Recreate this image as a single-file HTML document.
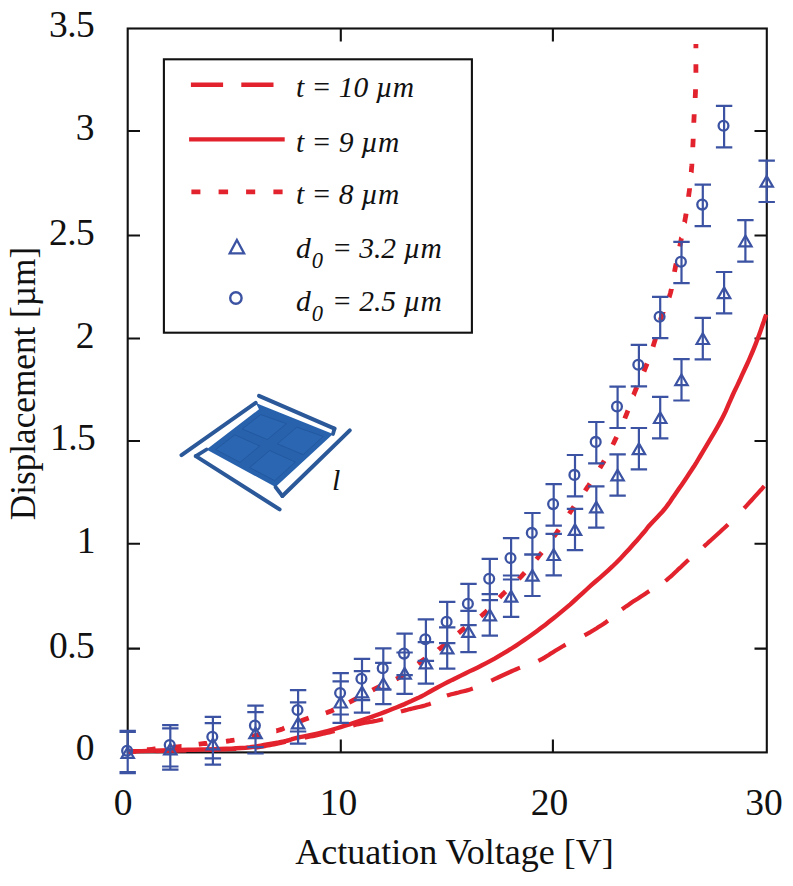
<!DOCTYPE html>
<html><head><meta charset="utf-8"><style>
html,body{margin:0;padding:0;background:#fff;}
svg{display:block;}
.tl{font-family:"Liberation Serif",serif;font-size:37.5px;fill:#111;}
.at{font-family:"Liberation Serif",serif;font-size:36px;fill:#111;}
.at2{font-family:"Liberation Serif",serif;font-size:35.2px;fill:#111;}
.lg{font-family:"Liberation Serif",serif;font-style:italic;font-size:29.5px;fill:#111;}
.sub{font-size:22.5px;}
</style></head><body>
<svg width="793" height="886" viewBox="0 0 793 886">
<rect x="127.7" y="28.5" width="639.1" height="723.9" fill="none" stroke="#111" stroke-width="2.1"/>
<path d="M127.7,648.6 h12.3 M766.8,648.6 h-12.3 M127.7,543.7 h12.3 M766.8,543.7 h-12.3 M127.7,441.0 h12.3 M766.8,441.0 h-12.3 M127.7,338.5 h12.3 M766.8,338.5 h-12.3 M127.7,235.5 h12.3 M766.8,235.5 h-12.3 M127.7,131.0 h12.3 M766.8,131.0 h-12.3 M340.8,752.4 v-13 M340.8,28.5 v13 M552.9,752.4 v-13 M552.9,28.5 v13" stroke="#111" stroke-width="2.1" fill="none"/>
<text x="94.1" y="37.2" text-anchor="end" class="tl" letter-spacing="-0.6">3.5</text>
<text x="94.5" y="140.2" text-anchor="end" class="tl">3</text>
<text x="94.1" y="244.7" text-anchor="end" class="tl" letter-spacing="-0.6">2.5</text>
<text x="94.5" y="347.7" text-anchor="end" class="tl">2</text>
<text x="95.1" y="450.2" text-anchor="end" class="tl" letter-spacing="-0.6">1.5</text>
<text x="95.5" y="552.9" text-anchor="end" class="tl">1</text>
<text x="94.1" y="657.8" text-anchor="end" class="tl" letter-spacing="-0.6">0.5</text>
<text x="94.5" y="760.1" text-anchor="end" class="tl">0</text>
<text x="123.0" y="814.8" text-anchor="middle" class="tl">0</text>
<text x="338.5" y="814.8" text-anchor="middle" class="tl">10</text>
<text x="549.5" y="814.8" text-anchor="middle" class="tl">20</text>
<text x="764.0" y="814.8" text-anchor="middle" class="tl">30</text>
<text x="454.5" y="863.8" text-anchor="middle" class="at">Actuation Voltage [V]</text>
<text transform="translate(35.3,383.5) rotate(-90)" text-anchor="middle" class="at2">Displacement [µm]</text>
<path d="M128.0,751.8 L130.6,751.7 L133.8,751.7 L136.3,751.6 M155.8,751.1 L156.6,751.1 L161.6,751.0 L166.6,750.8 L171.4,750.7 L175.9,750.6 L180.0,750.5 L183.8,750.4 L186.3,750.4 M205.8,749.9 L207.9,749.9 L211.0,749.8 L214.1,749.7 L217.1,749.6 L220.0,749.5 L222.9,749.4 L225.7,749.3 L228.4,749.2 L231.1,749.1 L233.7,749.0 L236.2,748.9 M255.7,747.4 L257.2,747.3 L258.7,747.1 L260.2,746.9 L261.7,746.6 L263.2,746.4 L264.8,746.1 L266.4,745.8 L268.1,745.5 L270.0,745.2 L272.0,744.8 L274.0,744.4 L276.2,744.0 L278.4,743.5 L280.6,743.0 L282.8,742.5 L285.1,742.0 L285.7,741.9 M304.7,737.8 L305.7,737.5 L308.1,737.0 L310.4,736.5 L312.7,736.1 L314.9,735.6 L317.1,735.1 L319.2,734.7 L321.2,734.2 L323.0,733.8 L324.7,733.4 L326.3,733.0 L327.7,732.7 L329.1,732.4 L330.3,732.1 L331.6,731.8 L332.8,731.5 L333.9,731.2 L334.5,731.0 M353.1,725.4 L353.1,725.4 L354.8,724.9 L356.6,724.5 L358.5,724.1 L360.6,723.6 L362.8,723.2 L365.1,722.8 L367.4,722.4 L369.8,722.0 L372.2,721.6 L374.5,721.1 L376.8,720.7 L379.0,720.2 L381.1,719.7 L383.0,719.2 M400.9,711.6 L400.9,711.6 L402.9,711.0 L405.1,710.4 L407.5,709.8 L410.0,709.1 L412.5,708.5 L415.1,707.9 L417.7,707.3 L420.2,706.7 L422.7,706.1 L425.0,705.5 L427.1,704.8 L429.1,704.2 L430.8,703.6 M446.9,695.6 L446.9,695.6 L449.0,694.9 L451.3,694.3 L453.7,693.7 L456.1,693.1 L458.6,692.5 L461.2,691.8 L463.7,691.2 L466.1,690.6 L468.5,689.9 L470.7,689.3 L472.8,688.6 M491.2,680.6 L491.2,680.6 L493.0,679.8 L494.9,678.9 L497.0,678.0 L499.1,677.0 L501.2,676.0 L503.4,675.0 L505.6,674.0 L507.8,673.0 L510.0,672.0 L512.1,671.0 L514.2,670.1 L516.3,669.2 L518.2,668.4 L520.0,667.7 M538.4,660.9 L538.4,660.9 L540.3,659.9 L542.3,658.8 L544.4,657.6 L546.5,656.3 L548.7,655.0 L550.8,653.6 L553.0,652.2 L555.2,650.8 L557.4,649.5 L559.5,648.2 L561.6,647.0 L563.6,645.8 L565.6,644.7 M584.5,635.4 L584.5,635.4 L586.3,634.4 L588.1,633.4 L589.9,632.4 L591.6,631.3 L593.4,630.3 L595.1,629.2 L596.8,628.2 L598.5,627.1 L600.2,626.0 L601.8,625.0 L603.4,623.9 L605.0,622.9 L606.5,621.8 L607.9,620.8 M622.0,609.2 L622.0,609.2 L623.9,607.9 L626.0,606.4 L628.3,604.9 L630.6,603.3 L633.1,601.6 L635.6,600.0 L638.1,598.4 L640.6,596.7 L643.0,595.2 L645.3,593.7 L647.4,592.3 L649.3,591.1 M665.4,581.0 L665.4,581.0 L667.1,579.6 L668.9,578.0 L670.9,576.3 L672.9,574.5 L675.0,572.5 L677.1,570.6 L679.1,568.6 L681.2,566.7 L683.2,564.8 L685.1,563.0 L686.9,561.3 L688.6,559.8 M703.7,546.7 L703.7,546.7 L705.4,545.1 L707.3,543.5 L709.3,541.6 L711.4,539.8 L713.6,537.8 L715.8,535.8 L718.0,533.8 L720.2,531.8 L722.3,529.8 L724.3,528.0 L726.2,526.2 L728.0,524.5 M744.1,508.3 L744.1,508.3 L745.7,506.6 L747.5,504.7 L749.3,502.7 L751.3,500.5 L753.2,498.4 L755.2,496.2 L757.1,494.1 L758.9,492.1 L760.6,490.2 L762.1,488.6 L763.3,487.2 L764.3,486.1" fill="none" stroke="#e2222c" stroke-width="4.2"/>
<path d="M128.0,751.5 L133.8,751.3 L141.9,751.1 L151.5,750.8 L161.6,750.5 L171.4,750.2 L180.0,750.0 L187.5,749.8 L194.6,749.7 L201.4,749.5 L207.9,749.4 L214.1,749.2 L220.0,749.0 L225.7,748.8 L231.1,748.6 L236.2,748.3 L241.1,748.0 L245.7,747.7 L250.0,747.3 L254.0,746.8 L257.6,746.2 L260.9,745.6 L264.0,745.0 L267.0,744.4 L270.0,743.8 L273.0,743.3 L275.8,742.8 L278.6,742.4 L281.2,741.9 L283.7,741.5 L286.0,741.0 L287.9,740.5 L289.3,740.1 L290.6,739.7 L292.0,739.2 L293.9,738.7 L296.5,738.0 L300.0,737.2 L304.1,736.4 L308.8,735.4 L313.6,734.4 L318.4,733.3 L323.0,732.2 L327.4,731.0 L331.8,729.8 L336.2,728.5 L340.7,727.1 L345.1,725.7 L349.5,724.3 L353.9,722.9 L358.4,721.4 L362.8,719.9 L367.3,718.4 L371.7,716.9 L376.0,715.3 L380.3,713.7 L384.6,712.1 L388.8,710.5 L393.0,708.8 L397.0,707.2 L400.9,705.6 L404.6,704.1 L408.0,702.6 L411.4,701.1 L414.6,699.6 L417.9,698.1 L421.1,696.5 L424.3,694.9 L427.3,693.2 L430.2,691.5 L433.3,689.8 L436.5,688.0 L440.0,686.1 L443.8,684.1 L447.9,682.1 L452.2,679.9 L456.6,677.8 L460.9,675.6 L465.2,673.5 L469.4,671.4 L473.6,669.4 L477.8,667.4 L482.0,665.3 L486.2,663.1 L490.4,660.9 L494.6,658.6 L498.8,656.1 L503.0,653.7 L507.3,651.1 L511.5,648.5 L515.7,645.8 L519.9,643.0 L524.1,640.2 L528.3,637.3 L532.5,634.3 L536.7,631.2 L540.9,628.1 L545.1,624.9 L549.3,621.6 L553.5,618.3 L557.7,614.9 L561.9,611.4 L566.1,607.9 L570.3,604.3 L574.5,600.5 L578.7,596.7 L582.9,592.9 L587.1,589.0 L591.3,585.2 L595.5,581.5 L599.8,577.8 L604.0,574.1 L608.2,570.3 L612.4,566.5 L616.5,562.5 L620.7,558.2 L625.0,553.6 L629.3,548.9 L633.4,544.3 L637.1,540.2 L640.2,536.6 L642.6,533.8 L644.4,531.7 L645.9,529.9 L647.1,528.3 L648.5,526.5 L650.3,524.5 L652.4,522.2 L654.8,519.7 L657.2,517.2 L659.7,514.6 L662.1,512.0 L664.4,509.3 L666.5,506.6 L668.5,503.9 L670.4,501.2 L672.3,498.3 L674.3,495.4 L676.5,492.2 L678.9,488.7 L681.6,484.9 L684.3,480.9 L687.0,476.9 L689.4,473.3 L691.6,470.0 L693.2,467.5 L694.4,465.7 L695.4,464.1 L696.5,462.4 L697.9,460.0 L700.0,456.5 L702.9,451.6 L706.5,445.6 L710.5,438.9 L714.5,432.1 L718.2,425.6 L721.3,419.9 L723.7,415.2 L725.7,411.1 L727.3,407.3 L728.9,403.6 L730.6,399.8 L732.5,395.5 L734.7,390.7 L737.2,385.6 L739.7,380.3 L742.1,374.9 L744.5,369.8 L746.7,365.0 L748.7,360.6 L750.5,356.4 L752.2,352.5 L753.8,348.6 L755.4,344.6 L757.0,340.5 L758.7,336.0 L760.5,331.0 L762.2,326.0 L763.9,321.3 L765.2,317.3 L766.2,314.5" fill="none" stroke="#e2222c" stroke-width="4.4"/>
<path d="M147.0,749.7 L148.7,749.6 L151.7,749.3 L154.7,749.0 L155.6,748.9 M172.9,747.3 L173.4,747.2 L175.4,747.0 L177.4,746.8 L179.4,746.6 L181.3,746.4 L181.5,746.4 M198.7,744.2 L199.5,744.1 L201.2,743.9 L203.0,743.7 L205.0,743.5 L207.0,743.3 L207.3,743.2 M226.0,741.3 L228.1,741.0 L230.3,740.7 L232.5,740.3 L234.5,740.0 M251.8,736.3 L251.8,736.3 L253.9,735.9 L256.0,735.4 L258.1,734.9 L260.1,734.5 L260.2,734.5 M276.3,730.8 L276.4,730.8 L278.4,730.2 L280.4,729.6 L282.4,728.9 L284.4,728.1 L284.4,728.1 M300.6,721.1 L302.5,720.3 L304.6,719.5 L306.7,718.8 L308.7,718.1 M325.8,713.0 L327.8,712.3 L329.8,711.5 L331.8,710.7 L333.8,709.8 M349.2,702.3 L351.1,701.4 L353.0,700.4 L354.9,699.4 L356.8,698.4 M372.5,690.1 L374.3,689.1 L376.3,688.1 L378.3,687.1 L380.2,686.3 M396.2,679.1 L398.1,678.1 L400.0,677.0 L401.9,675.8 L403.6,674.7 M418.0,663.8 L419.7,662.5 L421.4,661.2 L423.1,660.0 L424.9,658.8 L424.9,658.7 M438.4,649.6 L438.5,649.5 L440.2,648.3 L441.9,647.0 L443.6,645.7 L445.2,644.4 L445.3,644.3 M458.4,633.1 L460.0,631.8 L461.7,630.4 L463.5,629.0 L465.1,627.8 M480.7,616.3 L482.3,615.0 L484.0,613.5 L485.7,612.0 L487.2,610.6 M499.5,597.6 L500.9,596.1 L502.5,594.5 L504.1,592.9 L505.6,591.5 M518.8,578.9 L520.3,577.4 L521.8,575.8 L523.3,574.2 L524.7,572.7 M536.4,559.2 L537.7,557.7 L539.1,555.9 L540.5,554.1 L541.8,552.5 M553.9,536.6 L555.0,535.0 L556.4,533.1 L557.7,531.2 L558.8,529.6 M569.2,513.7 L570.3,512.0 L571.6,510.1 L572.9,508.2 L574.0,506.6 M585.1,490.8 L586.2,489.1 L587.5,487.2 L588.8,485.3 L589.9,483.6 M599.9,468.1 L601.0,466.3 L602.1,464.4 L603.2,462.5 L604.3,460.7 M612.8,444.8 L613.7,443.0 L614.7,440.9 L615.7,438.8 L616.6,437.0 M624.8,418.5 L625.5,416.6 L626.4,414.5 L627.2,412.4 L628.0,410.5 M633.6,395.0 L633.7,394.9 L634.4,392.9 L635.2,391.0 L636.0,389.0 L636.8,387.1 L636.9,387.0 M643.9,371.5 L644.7,369.5 L645.5,367.5 L646.3,365.5 L647.1,363.5 M653.0,346.7 L653.6,344.7 L654.3,342.6 L655.0,340.4 L655.5,338.5 M660.4,320.2 L661.0,318.2 L661.7,316.1 L662.4,314.1 L663.1,312.1 L663.1,312.0 M669.1,297.2 L669.2,297.0 L669.8,295.1 L670.4,293.1 L670.9,291.1 L671.4,289.0 L671.4,288.9 M674.5,271.9 L674.9,269.8 L675.3,267.7 L675.7,265.6 L676.2,263.5 M679.7,246.5 L679.7,246.5 L680.2,244.4 L680.6,242.3 L681.0,240.2 L681.4,238.2 L681.5,238.1 M684.6,222.1 L684.7,222.0 L685.0,220.0 L685.4,217.9 L685.8,215.8 L686.1,213.7 L686.1,213.7 M688.6,196.8 L688.6,196.7 L688.8,194.6 L689.1,192.5 L689.4,190.4 L689.6,188.4 L689.6,188.2 M691.2,172.3 L691.3,172.1 L691.4,170.1 L691.6,168.0 L691.8,165.9 L691.9,163.9 L691.9,163.7 M692.8,147.3 L692.8,147.1 L692.9,145.1 L693.0,143.0 L693.1,140.9 L693.2,138.9 L693.2,138.7 M693.8,122.8 L693.8,122.6 L693.9,120.6 L694.0,118.5 L694.1,116.4 L694.2,114.4 L694.2,114.2 M695.2,97.9 L695.2,97.8 L695.3,95.7 L695.4,93.6 L695.5,91.5 L695.5,89.4 L695.5,89.3 M695.9,72.8 L695.9,72.7 L695.9,70.6 L695.9,68.5 L695.9,66.4 L695.9,64.2 M695.9,48.3 L695.9,46.7 L695.9,45.2 L695.9,44.0" fill="none" stroke="#e2222c" stroke-width="4.8"/>
<path d="M127.7,730.8 V772.2 M119.5,730.8 h16.4 M119.5,772.2 h16.4 M170.3,725.1 V766.5 M162.1,725.1 h16.4 M162.1,766.5 h16.4 M212.9,716.9 V758.3 M204.7,716.9 h16.4 M204.7,758.3 h16.4 M255.5,705.7 V747.1 M247.3,705.7 h16.4 M247.3,747.1 h16.4 M298.1,690.1 V731.5 M289.9,690.1 h16.4 M289.9,731.5 h16.4 M340.7,673.1 V714.5 M332.5,673.1 h16.4 M332.5,714.5 h16.4 M362.0,658.8 V700.2 M353.8,658.8 h16.4 M353.8,700.2 h16.4 M383.3,648.3 V689.7 M375.1,648.3 h16.4 M375.1,689.7 h16.4 M404.6,633.7 V675.1 M396.4,633.7 h16.4 M396.4,675.1 h16.4 M425.9,619.4 V660.8 M417.7,619.4 h16.4 M417.7,660.8 h16.4 M447.2,601.8 V643.2 M439.0,601.8 h16.4 M439.0,643.2 h16.4 M468.5,583.8 V625.2 M460.3,583.8 h16.4 M460.3,625.2 h16.4 M489.8,558.8 V600.2 M481.6,558.8 h16.4 M481.6,600.2 h16.4 M511.1,538.1 V579.5 M502.9,538.1 h16.4 M502.9,579.5 h16.4 M532.4,513.0 V554.4 M524.2,513.0 h16.4 M524.2,554.4 h16.4 M553.7,484.2 V525.6 M545.5,484.2 h16.4 M545.5,525.6 h16.4 M575.0,455.0 V496.4 M566.8,455.0 h16.4 M566.8,496.4 h16.4 M596.3,422.0 V463.4 M588.1,422.0 h16.4 M588.1,463.4 h16.4 M617.6,386.6 V428.0 M609.4,386.6 h16.4 M609.4,428.0 h16.4 M638.9,344.9 V386.3 M630.7,344.9 h16.4 M630.7,386.3 h16.4 M660.2,296.8 V338.2 M652.0,296.8 h16.4 M652.0,338.2 h16.4 M681.5,241.8 V283.2 M673.3,241.8 h16.4 M673.3,283.2 h16.4 M702.8,184.7 V226.1 M694.6,184.7 h16.4 M694.6,226.1 h16.4 M724.1,105.9 V147.3 M715.9,105.9 h16.4 M715.9,147.3 h16.4 M127.7,731.8 V773.2 M119.5,731.8 h16.4 M119.5,773.2 h16.4 M170.3,728.3 V769.7 M162.1,728.3 h16.4 M162.1,769.7 h16.4 M212.9,723.2 V764.6 M204.7,723.2 h16.4 M204.7,764.6 h16.4 M255.5,712.1 V753.5 M247.3,712.1 h16.4 M247.3,753.5 h16.4 M298.1,702.3 V743.7 M289.9,702.3 h16.4 M289.9,743.7 h16.4 M340.7,681.4 V722.8 M332.5,681.4 h16.4 M332.5,722.8 h16.4 M362.0,671.2 V712.6 M353.8,671.2 h16.4 M353.8,712.6 h16.4 M383.3,662.8 V704.2 M375.1,662.8 h16.4 M375.1,704.2 h16.4 M404.6,652.5 V693.9 M396.4,652.5 h16.4 M396.4,693.9 h16.4 M425.9,642.2 V683.6 M417.7,642.2 h16.4 M417.7,683.6 h16.4 M447.2,627.3 V668.7 M439.0,627.3 h16.4 M439.0,668.7 h16.4 M468.5,610.8 V652.2 M460.3,610.8 h16.4 M460.3,652.2 h16.4 M489.8,594.2 V635.6 M481.6,594.2 h16.4 M481.6,635.6 h16.4 M511.1,575.5 V616.9 M502.9,575.5 h16.4 M502.9,616.9 h16.4 M532.4,554.6 V596.0 M524.2,554.6 h16.4 M524.2,596.0 h16.4 M553.7,533.9 V575.3 M545.5,533.9 h16.4 M545.5,575.3 h16.4 M575.0,508.8 V550.2 M566.8,508.8 h16.4 M566.8,550.2 h16.4 M596.3,486.3 V527.7 M588.1,486.3 h16.4 M588.1,527.7 h16.4 M617.6,454.3 V495.7 M609.4,454.3 h16.4 M609.4,495.7 h16.4 M638.9,428.0 V469.4 M630.7,428.0 h16.4 M630.7,469.4 h16.4 M660.2,396.9 V438.3 M652.0,396.9 h16.4 M652.0,438.3 h16.4 M681.5,359.1 V400.5 M673.3,359.1 h16.4 M673.3,400.5 h16.4 M702.8,317.9 V359.3 M694.6,317.9 h16.4 M694.6,359.3 h16.4 M724.1,272.0 V313.4 M715.9,272.0 h16.4 M715.9,313.4 h16.4 M745.4,220.2 V261.6 M737.2,220.2 h16.4 M737.2,261.6 h16.4 M766.7,160.6 V202.0 M758.5,160.6 h16.4 M758.5,202.0 h16.4" stroke="#3b53a2" stroke-width="2.2" fill="none"/>
<circle cx="127.1" cy="750.7" r="4.9" fill="none" stroke="#3b53a2" stroke-width="2.3"/>
<circle cx="169.7" cy="745.0" r="4.9" fill="none" stroke="#3b53a2" stroke-width="2.3"/>
<circle cx="212.3" cy="736.8" r="4.9" fill="none" stroke="#3b53a2" stroke-width="2.3"/>
<circle cx="254.9" cy="725.6" r="4.9" fill="none" stroke="#3b53a2" stroke-width="2.3"/>
<circle cx="297.5" cy="710.0" r="4.9" fill="none" stroke="#3b53a2" stroke-width="2.3"/>
<circle cx="340.1" cy="693.0" r="4.9" fill="none" stroke="#3b53a2" stroke-width="2.3"/>
<circle cx="361.4" cy="678.7" r="4.9" fill="none" stroke="#3b53a2" stroke-width="2.3"/>
<circle cx="382.7" cy="668.2" r="4.9" fill="none" stroke="#3b53a2" stroke-width="2.3"/>
<circle cx="404.0" cy="653.6" r="4.9" fill="none" stroke="#3b53a2" stroke-width="2.3"/>
<circle cx="425.3" cy="639.3" r="4.9" fill="none" stroke="#3b53a2" stroke-width="2.3"/>
<circle cx="446.6" cy="621.7" r="4.9" fill="none" stroke="#3b53a2" stroke-width="2.3"/>
<circle cx="467.9" cy="603.7" r="4.9" fill="none" stroke="#3b53a2" stroke-width="2.3"/>
<circle cx="489.2" cy="578.7" r="4.9" fill="none" stroke="#3b53a2" stroke-width="2.3"/>
<circle cx="510.5" cy="558.0" r="4.9" fill="none" stroke="#3b53a2" stroke-width="2.3"/>
<circle cx="531.8" cy="532.9" r="4.9" fill="none" stroke="#3b53a2" stroke-width="2.3"/>
<circle cx="553.1" cy="504.1" r="4.9" fill="none" stroke="#3b53a2" stroke-width="2.3"/>
<circle cx="574.4" cy="474.9" r="4.9" fill="none" stroke="#3b53a2" stroke-width="2.3"/>
<circle cx="595.7" cy="441.9" r="4.9" fill="none" stroke="#3b53a2" stroke-width="2.3"/>
<circle cx="617.0" cy="406.5" r="4.9" fill="none" stroke="#3b53a2" stroke-width="2.3"/>
<circle cx="638.3" cy="364.8" r="4.9" fill="none" stroke="#3b53a2" stroke-width="2.3"/>
<circle cx="659.6" cy="316.7" r="4.9" fill="none" stroke="#3b53a2" stroke-width="2.3"/>
<circle cx="680.9" cy="261.7" r="4.9" fill="none" stroke="#3b53a2" stroke-width="2.3"/>
<circle cx="702.2" cy="204.6" r="4.9" fill="none" stroke="#3b53a2" stroke-width="2.3"/>
<circle cx="723.5" cy="125.8" r="4.9" fill="none" stroke="#3b53a2" stroke-width="2.3"/>
<path d="M127.7,747.2 L133.9,757.9 L121.5,757.9 Z" fill="none" stroke="#3b53a2" stroke-width="2.2" stroke-linejoin="miter"/>
<path d="M170.3,743.7 L176.5,754.4 L164.1,754.4 Z" fill="none" stroke="#3b53a2" stroke-width="2.2" stroke-linejoin="miter"/>
<path d="M212.9,738.6 L219.1,749.3 L206.7,749.3 Z" fill="none" stroke="#3b53a2" stroke-width="2.2" stroke-linejoin="miter"/>
<path d="M255.5,727.5 L261.7,738.2 L249.3,738.2 Z" fill="none" stroke="#3b53a2" stroke-width="2.2" stroke-linejoin="miter"/>
<path d="M298.1,717.7 L304.3,728.4 L291.9,728.4 Z" fill="none" stroke="#3b53a2" stroke-width="2.2" stroke-linejoin="miter"/>
<path d="M340.7,696.8 L346.9,707.5 L334.5,707.5 Z" fill="none" stroke="#3b53a2" stroke-width="2.2" stroke-linejoin="miter"/>
<path d="M362.0,686.6 L368.2,697.3 L355.8,697.3 Z" fill="none" stroke="#3b53a2" stroke-width="2.2" stroke-linejoin="miter"/>
<path d="M383.3,678.2 L389.5,688.9 L377.1,688.9 Z" fill="none" stroke="#3b53a2" stroke-width="2.2" stroke-linejoin="miter"/>
<path d="M404.6,667.9 L410.8,678.6 L398.4,678.6 Z" fill="none" stroke="#3b53a2" stroke-width="2.2" stroke-linejoin="miter"/>
<path d="M425.9,657.6 L432.1,668.3 L419.7,668.3 Z" fill="none" stroke="#3b53a2" stroke-width="2.2" stroke-linejoin="miter"/>
<path d="M447.2,642.7 L453.4,653.4 L441.0,653.4 Z" fill="none" stroke="#3b53a2" stroke-width="2.2" stroke-linejoin="miter"/>
<path d="M468.5,626.2 L474.7,636.9 L462.3,636.9 Z" fill="none" stroke="#3b53a2" stroke-width="2.2" stroke-linejoin="miter"/>
<path d="M489.8,609.6 L496.0,620.3 L483.6,620.3 Z" fill="none" stroke="#3b53a2" stroke-width="2.2" stroke-linejoin="miter"/>
<path d="M511.1,590.9 L517.3,601.6 L504.9,601.6 Z" fill="none" stroke="#3b53a2" stroke-width="2.2" stroke-linejoin="miter"/>
<path d="M532.4,570.0 L538.6,580.7 L526.2,580.7 Z" fill="none" stroke="#3b53a2" stroke-width="2.2" stroke-linejoin="miter"/>
<path d="M553.7,549.3 L559.9,560.0 L547.5,560.0 Z" fill="none" stroke="#3b53a2" stroke-width="2.2" stroke-linejoin="miter"/>
<path d="M575.0,524.2 L581.2,534.9 L568.8,534.9 Z" fill="none" stroke="#3b53a2" stroke-width="2.2" stroke-linejoin="miter"/>
<path d="M596.3,501.7 L602.5,512.4 L590.1,512.4 Z" fill="none" stroke="#3b53a2" stroke-width="2.2" stroke-linejoin="miter"/>
<path d="M617.6,469.7 L623.8,480.4 L611.4,480.4 Z" fill="none" stroke="#3b53a2" stroke-width="2.2" stroke-linejoin="miter"/>
<path d="M638.9,443.4 L645.1,454.1 L632.7,454.1 Z" fill="none" stroke="#3b53a2" stroke-width="2.2" stroke-linejoin="miter"/>
<path d="M660.2,412.3 L666.4,423.0 L654.0,423.0 Z" fill="none" stroke="#3b53a2" stroke-width="2.2" stroke-linejoin="miter"/>
<path d="M681.5,374.5 L687.7,385.2 L675.3,385.2 Z" fill="none" stroke="#3b53a2" stroke-width="2.2" stroke-linejoin="miter"/>
<path d="M702.8,333.3 L709.0,344.0 L696.6,344.0 Z" fill="none" stroke="#3b53a2" stroke-width="2.2" stroke-linejoin="miter"/>
<path d="M724.1,287.4 L730.3,298.1 L717.9,298.1 Z" fill="none" stroke="#3b53a2" stroke-width="2.2" stroke-linejoin="miter"/>
<path d="M745.4,235.6 L751.6,246.3 L739.2,246.3 Z" fill="none" stroke="#3b53a2" stroke-width="2.2" stroke-linejoin="miter"/>
<path d="M766.7,176.0 L772.9,186.7 L760.5,186.7 Z" fill="none" stroke="#3b53a2" stroke-width="2.2" stroke-linejoin="miter"/>
<path d="M255.7,402.8 L262.0,405.4 L333.0,434.0 L275.5,487.0 L206.5,449.5 L259.0,409.3 Z" fill="#2862ad"/>
<path d="M260.7,414.6 L286.4,423.6 L267.3,439.6 L242.2,429.0 Z" fill="#2a66b2" stroke="#22579d" stroke-width="0.9"/>
<path d="M234.8,434.8 L259.7,446.0 L240.0,462.4 L215.7,449.6 Z" fill="#2a66b2" stroke="#22579d" stroke-width="0.9"/>
<path d="M296.8,427.2 L323.2,436.4 L303.2,454.7 L277.4,443.8 Z" fill="#2a66b2" stroke="#22579d" stroke-width="0.9"/>
<path d="M269.6,450.5 L295.2,462.0 L274.7,480.7 L249.7,467.6 Z" fill="#2a66b2" stroke="#22579d" stroke-width="0.9"/>
<path d="M334.5,428.6 L333.0,434.0" stroke="#2a5899" stroke-width="3.8" stroke-linecap="round"/>
<path d="M282.4,496.0 L275.5,487.0" stroke="#2a5899" stroke-width="3.8" stroke-linecap="round"/>
<path d="M195.8,456.1 L206.5,449.5" stroke="#2a5899" stroke-width="3.8" stroke-linecap="round"/>
<path d="M259.0,395.8 L334.5,428.6" stroke="#2a5899" stroke-width="4.0" stroke-linecap="round"/>
<path d="M181.5,455.1 L255.7,402.8" stroke="#2a5899" stroke-width="4.0" stroke-linecap="round"/>
<path d="M195.8,456.1 L279.6,509.4" stroke="#2a5899" stroke-width="4.0" stroke-linecap="round"/>
<path d="M349.8,430.4 L282.4,496.0" stroke="#2a5899" stroke-width="4.0" stroke-linecap="round"/>
<text x="332" y="490" class="lg" style="font-size:30px">l</text>
<rect x="163.9" y="59.3" width="308" height="273.4" fill="#fff" stroke="#111" stroke-width="2.1"/>
<path d="M190.9,84.7 H223.1 M241.3,84.7 H273.5" stroke="#e2222c" stroke-width="4.4"/>
<path d="M189.1,139.4 H284.7" stroke="#e2222c" stroke-width="4.4"/>
<path d="M191.4,191.9 h9 M218.6,191.9 h9.5 M246.1,191.9 h9.1 M273.4,191.9 h9.2" stroke="#e2222c" stroke-width="4.8"/>
<path d="M236.9,240 L244.1,253.4 L229.7,253.4 Z" fill="none" stroke="#3b53a2" stroke-width="2.3"/>
<circle cx="235.9" cy="298" r="5.7" fill="none" stroke="#3b53a2" stroke-width="2.4"/>
<text x="296" y="97.0" class="lg">t = 10 µm</text>
<text x="296" y="152.0" class="lg">t = 9 µm</text>
<text x="296" y="204.3" class="lg">t = 8 µm</text>
<text x="296" y="258.4" class="lg">d<tspan class="sub" dx="1" dy="10">0</tspan><tspan dx="1.5" dy="-10"> = 3.2 µm</tspan></text>
<text x="296" y="310.8" class="lg">d<tspan class="sub" dx="1" dy="10">0</tspan><tspan dx="1.5" dy="-10"> = 2.5 µm</tspan></text>
</svg>
</body></html>
